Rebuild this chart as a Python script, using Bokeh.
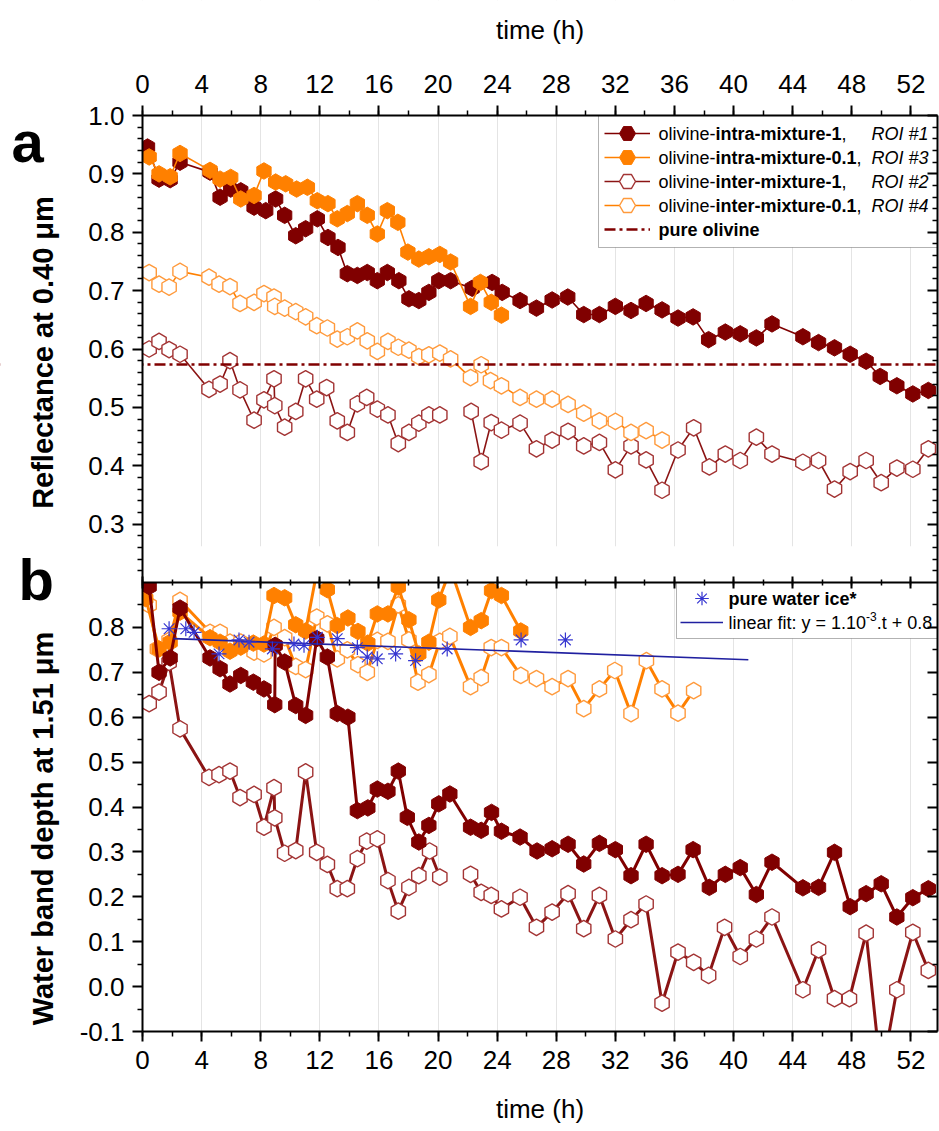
import math
from bokeh.plotting import figure
from bokeh.models import (Range1d, LinearAxis, FixedTicker, SingleIntervalTicker,
                          CustomJSTickFormatter, Legend, LegendItem, BoxAnnotation)
from bokeh.core.properties import value
from bokeh.embed import file_html
from bokeh.resources import INLINE

NaN = float("nan")

# ---------------- panel a : reflectance at 0.40 um ----------------
t_a_intra1 = [0.34, 1.12, 1.87, 2.54, 4.57, 5.25, 5.97, 6.65, 7.55, 8.34, 9.01, 9.62, 10.37, 11.04,
              11.83, 12.55, 13.23, 13.86, 14.54, 15.21, 15.89, 16.57, 17.35, 18.03, 18.70, 19.38,
              20.05, 20.85, 22.31, 23.66, 24.34, 25.55, 26.66, 27.72, 28.78, 29.86, 30.92, 32.00,
              33.06, 34.08, 35.16, 36.24, 37.26, 38.31, 39.44, 40.45, 41.54, 42.60, 44.69, 45.75,
              46.83, 47.89, 48.97, 49.92, 51.05, 52.13, 53.18]
r_a_intra1 = [0.946, 0.891, 0.890, 0.920, 0.903, 0.860, 0.874, 0.871, 0.843, 0.837, 0.857, 0.829,
              0.794, 0.806, 0.823, 0.791, 0.774, 0.729, 0.726, 0.731, 0.717, 0.731, 0.717, 0.686,
              0.683, 0.697, 0.717, 0.717, 0.704, 0.714, 0.697, 0.683, 0.670, 0.684, 0.689, 0.659,
              0.659, 0.673, 0.666, 0.678, 0.667, 0.653, 0.655, 0.616, 0.629, 0.626, 0.619, 0.643,
              0.621, 0.611, 0.602, 0.591, 0.579, 0.553, 0.537, 0.523, 0.529]

t_a_intra01 = [0.45, 1.12, 1.87, 2.54, 4.57, 5.25, 5.97, 6.65, 7.55, 8.22, 9.01, 9.69, 10.43, 11.16,
               11.83, 12.55, 13.18, 13.86, 14.54, 15.21, 15.89, 16.57, 17.28, 17.96, 18.70, 19.38,
               20.12, 20.85, 22.20, 22.87, 23.60, 24.29]
r_a_intra01 = [0.929, 0.900, 0.895, 0.935, 0.906, 0.891, 0.894, 0.857, 0.863, 0.905, 0.886, 0.883,
               0.874, 0.877, 0.854, 0.849, 0.823, 0.832, 0.849, 0.829, 0.797, 0.837, 0.817, 0.766,
               0.754, 0.758, 0.762, 0.749, 0.673, 0.714, 0.680, 0.658]

t_a_inter1 = [0.45, 1.12, 1.80, 2.54, 4.50, 5.25, 5.92, 6.60, 7.55, 8.22, 8.90, 8.95, 9.62, 10.37,
              11.04, 11.79, 12.46, 13.18, 13.86, 14.54, 15.17, 15.89, 16.61, 17.31, 18.03, 18.70,
              19.38, 20.12, 21.20, 22.24, 22.92, 23.60, 24.29, 25.55, 26.66, 27.72, 28.80, 29.86,
              30.92, 32.00, 33.06, 34.08, 35.16, 36.24, 37.30, 38.36, 39.44, 40.45, 41.54, 42.60,
              44.69, 45.75, 46.83, 47.89, 48.97, 49.99, 51.05, 52.13, 53.18]
r_a_inter1 = [0.600, 0.613, 0.599, 0.591, 0.531, 0.540, 0.580, 0.530, 0.478, 0.513, 0.549, 0.503,
              0.466, 0.493, 0.549, 0.514, 0.534, 0.477, 0.457, 0.506, 0.517, 0.497, 0.487, 0.438,
              0.457, 0.473, 0.487, 0.487, NaN, 0.493, 0.407, 0.474, 0.461, 0.473, 0.429, 0.444,
              0.459, 0.434, 0.440, 0.393, 0.434, 0.410, 0.358, 0.427, 0.465, 0.398, 0.420, 0.409,
              0.449, 0.420, 0.406, 0.409, 0.360, 0.390, 0.409, 0.371, 0.396, 0.394, 0.429]

t_a_inter01 = [0.45, 1.12, 1.80, 2.54, 4.50, 5.18, 5.92, 6.60, 7.55, 8.22, 8.90, 8.95, 9.62, 10.37,
               11.04, 11.79, 12.51, 13.18, 13.86, 14.54, 15.21, 15.89, 16.61, 17.31, 18.03, 18.70,
               19.38, 20.12, 20.85, 22.20, 22.92, 23.55, 24.29, 25.55, 26.66, 27.72, 28.80, 29.86,
               30.92, 32.00, 33.06, 34.08, 35.16]
r_a_inter01 = [0.731, 0.711, 0.706, 0.733, 0.723, 0.711, 0.707, 0.678, 0.680, 0.695, 0.689, 0.673,
               0.670, 0.664, 0.655, 0.640, 0.636, 0.617, 0.621, 0.631, 0.614, 0.596, 0.613, 0.603,
               0.598, 0.587, 0.590, 0.593, 0.583, 0.551, 0.573, 0.546, 0.537, 0.517, 0.514, 0.514,
               0.505, 0.490, 0.477, 0.476, 0.457, 0.460, 0.444]

pure_olivine = 0.573

# ---------------- panel b : water band depth at 1.51 um ----------------
t_b_intra1 = [0.45, 1.12, 1.87, 2.54, 4.57, 5.25, 5.92, 6.65, 7.50, 8.22, 8.95, 8.98, 9.62, 10.37,
              11.04, 11.79, 12.51, 13.18, 13.90, 14.54, 15.25, 15.89, 16.61, 17.31, 17.92, 18.70,
              19.38, 20.05, 20.80, 22.20, 22.92, 23.62, 24.29, 25.55, 26.70, 27.72, 28.80, 29.86,
              30.92, 32.00, 33.06, 34.08, 35.16, 36.24, 37.26, 38.36, 39.44, 40.45, 41.54, 42.60,
              44.69, 45.75, 46.83, 47.89, 48.97, 49.99, 51.05, 52.13, 53.18]
d_b_intra1 = [0.891, 0.700, 0.732, 0.843, 0.732, 0.708, 0.674, 0.693, 0.678, 0.663, 0.628, 0.760,
              0.723, 0.626, 0.604, 0.775, 0.734, 0.608, 0.600, 0.392, 0.398, 0.440, 0.435, 0.480,
              0.377, 0.322, 0.359, 0.407, 0.429, 0.355, 0.348, 0.388, 0.346, 0.333, 0.302, 0.307,
              0.317, 0.273, 0.319, 0.305, 0.247, 0.317, 0.247, 0.250, 0.305, 0.221, 0.250, 0.265,
              0.205, 0.277, 0.220, 0.221, 0.299, 0.178, 0.207, 0.229, 0.155, 0.198, 0.218]

t_b_intra01 = [0.22, 1.12, 1.87, 2.54, 4.57, 5.25, 5.92, 6.65, 7.50, 8.22, 8.90, 9.62, 10.37, 11.04,
               11.83, 12.51, 13.18, 13.90, 14.58, 15.25, 15.89, 16.61, 17.31, 18.03, 18.70, 19.38,
               20.05, 20.85, 22.20, 22.92, 23.62, 24.29, 25.60]
d_b_intra01 = [0.864, 0.752, 0.767, 0.834, 0.777, 0.767, 0.747, 0.756, 0.765, 0.763, 0.871, 0.866,
               0.806, 0.792, 0.930, 0.884, 0.804, 0.821, 0.791, 0.765, 0.830, 0.830, 0.890, 0.817,
               0.741, 0.767, 0.861, 0.930, 0.800, 0.815, 0.882, 0.871, 0.792]

t_b_inter1 = [0.45, 1.12, 1.80, 2.54, 4.50, 5.18, 5.92, 6.60, 7.55, 8.22, 8.90, 8.95, 9.62, 10.37,
              11.04, 11.79, 12.51, 13.18, 13.86, 14.54, 15.17, 15.89, 16.61, 17.31, 18.03, 18.70,
              19.43, 20.12, 21.20, 22.20, 22.92, 23.60, 24.29, 25.55, 26.66, 27.72, 28.80, 29.86,
              30.92, 32.00, 33.06, 34.08, 35.16, 36.24, 37.30, 38.31, 39.39, 40.45, 41.54, 42.60,
              44.69, 45.75, 46.83, 47.84, 48.97, 49.99, 51.05, 52.13, 53.18]
d_b_inter1 = [0.630, 0.656, 0.722, 0.574, 0.466, 0.472, 0.480, 0.421, 0.428, 0.355, 0.443, 0.376,
              0.297, 0.303, 0.478, 0.299, 0.272, 0.218, 0.218, 0.285, 0.324, 0.329, 0.236, 0.168,
              0.221, 0.247, 0.302, 0.244, NaN, 0.250, 0.210, 0.203, 0.173, 0.199, 0.132, 0.166,
              0.207, 0.129, 0.203, 0.106, 0.149, 0.184, -0.037, 0.077, 0.054, 0.025, 0.132, 0.067,
              0.106, 0.155, -0.007, 0.082, -0.027, -0.027, 0.119, -0.200, -0.007, 0.121, 0.036]

t_b_inter01 = [0.45, 1.01, 1.80, 2.54, 4.57, 5.25, 5.92, 6.65, 7.55, 8.22, 8.90, 9.62, 10.37, 11.04,
               11.79, 12.51, 13.18, 13.86, 14.58, 15.21, 15.89, 16.61, 17.31, 18.03, 18.64, 19.38,
               20.12, 20.80, 22.20, 22.92, 23.60, 24.29, 25.60, 26.66, 27.72, 28.80, 29.86, 30.92,
               31.96, 33.06, 34.10, 35.16, 36.24, 37.30]
d_b_inter01 = [0.850, 0.752, 0.771, 0.860, 0.789, 0.789, 0.767, 0.767, 0.745, 0.741, 0.800, 0.777,
               0.713, 0.706, 0.823, 0.808, 0.730, 0.750, 0.717, 0.700, 0.771, 0.769, 0.850, 0.772,
               0.678, 0.695, 0.769, 0.780, 0.668, 0.688, 0.755, 0.755, 0.693, 0.686, 0.668, 0.686,
               0.619, 0.663, 0.704, 0.608, 0.726, 0.663, 0.609, 0.659]

t_ice = [1.80, 2.93, 3.49, 5.18, 6.53, 7.21, 8.79, 10.25, 10.93, 11.83, 13.18, 14.54, 15.21, 15.89,
         17.13, 18.48, 20.62, 25.62, 28.62]
d_ice = [0.797, 0.797, 0.789, 0.741, 0.772, 0.767, 0.752, 0.763, 0.760, 0.778, 0.775, 0.755, 0.734,
         0.730, 0.741, 0.726, 0.752, 0.772, 0.772]

t_fit = [2.1, 41.0]
d_fit = [0.775, 0.728]

refl_ticks = [0.3, 0.4, 0.5, 0.6, 0.7, 0.8, 0.9, 1.0]
depth_ticks = [-0.1, 0.0, 0.1, 0.2, 0.3, 0.4, 0.5, 0.6, 0.7, 0.8]
time_interval = 4

# ---------------- layout (page pixels) ----------------
FIG_W, FIG_H = 939, 1130
AX_L, AX_R, AX_T, AX_B = 142, 937, 115, 1031     # the plotting box of the two panels
SPLIT = 582
X_END = 53.8
FONT = "Liberation Sans"

DARK = "#800000"
DARK_LINE = "#8B1414"
DARK_OPEN = "#A33434"
ORANGE = "#FF8000"
ORANGE_OPEN = "#FF9A3C"
BLUE = "#3535D0"
BLUE_FIT = "#2020A0"

ppx = (AX_R - AX_L) / X_END
top_ppu = (SPLIT - AX_T) / 0.8
bot_ppu = (AX_B - SPLIT) / 1.0


def X(px):
    return (px - AX_L) / ppx


def YT(py):
    return 1.0 - (py - AX_T) / top_ppu


def YB(py):
    return 0.9 - (py - SPLIT) / bot_ppu


def top_to_bot(v):
    return YB(AX_T + (1.0 - v) * top_ppu)


TOP_EDGE = top_to_bot(1.0)
y_top = Range1d(YT(FIG_H), YT(0))
y_bot = Range1d(YB(FIG_H), YB(0))

# the frame covers the whole canvas; every axis is pinned to the panel box edges
p = figure(width=FIG_W, height=FIG_H, x_range=Range1d(X(0), X(FIG_W)), y_range=y_bot,
           output_backend="svg", toolbar_location=None,
           x_axis_location=None, y_axis_location=None,
           min_border_left=0, min_border_right=0, min_border_top=0, min_border_bottom=0)
p.extra_y_ranges = {"top": y_top}
p.outline_line_color = None
p.background_fill_color = "white"
p.border_fill_color = "white"

time_ticker = SingleIntervalTicker(interval=time_interval, num_minor_ticks=2)
p.xgrid.ticker = time_ticker
p.xgrid.bounds = (0, X_END)
p.xgrid.grid_line_color = "#E4E4E4"
p.xgrid.grid_line_width = 1
p.ygrid.visible = False

major_y = depth_ticks + [top_to_bot(v) for v in refl_ticks]
minor_y = [-0.05 + 0.1 * i for i in range(10)] + \
          [top_to_bot(0.2 + 0.02 * i) for i in range(1, 40) if i % 5 != 0]
y_ticker = FixedTicker(ticks=major_y, minor_ticks=minor_y)
y_fmt = CustomJSTickFormatter(args=dict(split=SPLIT, bppu=bot_ppu, tppu=top_ppu, atop=AX_T),
                              code="""
let v = tick;
if (tick > 0.9 + 1e-9) {
  const py = split + (0.9 - tick) * bppu;
  v = 1.0 - (py - atop) / tppu;
}
return v.toFixed(1);
""")
Y_BOUNDS = (-0.1 - 1e-6, TOP_EDGE + 1e-6)
X_BOUNDS = (0, X_END)


def style(ax, tin, tout, mtin, mtout, labels=True):
    ax.axis_line_color = "black"
    ax.axis_line_width = 2
    ax.major_tick_line_color = "black"
    ax.major_tick_line_width = 2
    ax.minor_tick_line_color = "black"
    ax.minor_tick_line_width = 1.5
    ax.major_tick_in = tin
    ax.major_tick_out = tout
    ax.minor_tick_in = mtin
    ax.minor_tick_out = mtout
    ax.major_label_text_font = FONT
    if labels:
        ax.major_label_text_font_size = "26px"
        ax.major_label_text_color = "black"
    else:
        ax.major_label_text_font_size = "0px"
        ax.major_label_text_color = None
        ax.major_label_standoff = 0


ax_top = LinearAxis(ticker=time_ticker, fixed_location=TOP_EDGE, bounds=X_BOUNDS)
style(ax_top, 0, 10, 0, 5)
ax_top.major_label_standoff = 13
p.add_layout(ax_top, "above")

ax_bot = LinearAxis(ticker=time_ticker, fixed_location=-0.1, bounds=X_BOUNDS)
style(ax_bot, 0, 10, 0, 5)
ax_bot.major_label_standoff = 9
p.add_layout(ax_bot, "below")

ax_mid = LinearAxis(ticker=time_ticker, fixed_location=0.9, bounds=X_BOUNDS)
style(ax_mid, 6, 6, 3, 3, labels=False)
p.add_layout(ax_mid, "below")

ax_left = LinearAxis(ticker=y_ticker, formatter=y_fmt, fixed_location=0, bounds=Y_BOUNDS)
style(ax_left, 0, 10, 0, 5)
ax_left.major_label_standoff = 8
p.add_layout(ax_left, "left")

ax_right = LinearAxis(ticker=y_ticker, formatter=y_fmt, fixed_location=X_END, bounds=Y_BOUNDS)
style(ax_right, 10, 0, 5, 0, labels=False)
p.add_layout(ax_right, "right")

HEX = dict(marker="hex", angle=math.pi / 2, size=16.5)

# ---- panel a glyphs ----
a1_l = p.line(t_a_intra1, r_a_intra1, y_range_name="top", line_color=DARK, line_width=1.6)
a1_s = p.scatter(t_a_intra1, r_a_intra1, y_range_name="top", fill_color=DARK, line_color=DARK,
                 line_width=1, **HEX)
a2_l = p.line(t_a_intra01, r_a_intra01, y_range_name="top", line_color=ORANGE, line_width=1.6)
a2_s = p.scatter(t_a_intra01, r_a_intra01, y_range_name="top", fill_color=ORANGE,
                 line_color=ORANGE, line_width=1, **HEX)
a3_l = p.line(t_a_inter1, r_a_inter1, y_range_name="top", line_color=DARK_LINE, line_width=1.6)
a3_s = p.scatter(t_a_inter1, r_a_inter1, y_range_name="top", fill_color="white",
                 line_color=DARK_OPEN, line_width=1.4, **HEX)
a4_l = p.line(t_a_inter01, r_a_inter01, y_range_name="top", line_color=ORANGE, line_width=1.6)
a4_s = p.scatter(t_a_inter01, r_a_inter01, y_range_name="top", fill_color="white",
                 line_color=ORANGE_OPEN, line_width=1.4, **HEX)
olv = p.hspan(y=[pure_olivine], y_range_name="top", line_color=DARK, line_width=2.5,
              line_dash="11 4 3 4")

# ---- panel b glyphs ----
b4_l = p.line(t_b_inter01, d_b_inter01, line_color=ORANGE, line_width=3)
b4_s = p.scatter(t_b_inter01, d_b_inter01, fill_color="white", line_color=ORANGE_OPEN,
                 line_width=1.4, **HEX)
b2_l = p.line(t_b_intra01, d_b_intra01, line_color=ORANGE, line_width=3)
b2_s = p.scatter(t_b_intra01, d_b_intra01, fill_color=ORANGE, line_color=ORANGE, line_width=1,
                 **HEX)
b3_l = p.line(t_b_inter1, d_b_inter1, line_color=DARK_LINE, line_width=3)
b3_s = p.scatter(t_b_inter1, d_b_inter1, fill_color="white", line_color=DARK_OPEN,
                 line_width=1.4, **HEX)
b1_l = p.line(t_b_intra1, d_b_intra1, line_color=DARK, line_width=3)
b1_s = p.scatter(t_b_intra1, d_b_intra1, fill_color=DARK, line_color=DARK, line_width=1, **HEX)
fit_r = p.line(t_fit, d_fit, line_color=BLUE_FIT, line_width=1.6)
ice_r = p.scatter(t_ice, d_ice, marker="asterisk", size=15, line_color=BLUE, line_width=1.2)

# ---- legend geometry (page px) ----
LG_ROW = 24
LA_L, LA_T, LA_H = 598, AX_T, 132          # box of legend a
LA_GX, LA_GW, LA_GH = 604, 46, 40          # sample column of legend a
LA_TX = 658                                # text column of legend a
LB_L, LB_T, LB_H = 676, SPLIT, 56          # box of legend b
LB_GX, LB_GW, LB_GH = 680, 43, 34
LB_TX = 728

# masks: keep marks (and grid lines) inside the panel boxes; the legend boxes are blanked
MASK = dict(fill_color="white", fill_alpha=1.0, line_color=None, level="glyph")
p.add_layout(BoxAnnotation(right=0, **MASK))
p.add_layout(BoxAnnotation(left=X_END, **MASK))
p.add_layout(BoxAnnotation(top=-0.1, **MASK))
p.add_layout(BoxAnnotation(bottom=TOP_EDGE, **MASK))
p.add_layout(BoxAnnotation(bottom=0.2, top=0.262, left=0, y_range_name="top", **MASK))
BOXED = dict(MASK, line_color="black", line_width=1)
p.add_layout(BoxAnnotation(left=X(LA_L), right=X(AX_R), top=YB(LA_T), bottom=YB(LA_T + LA_H),
                           **BOXED))
p.add_layout(BoxAnnotation(left=X(LB_L), right=X(AX_R), top=YB(LB_T), bottom=YB(LB_T + LB_H),
                           **BOXED))

# ---- legend samples: one single-entry legend per row ----
LEG_STYLE = dict(margin=0, padding=0, spacing=0, label_text_font_size="18px",
                 label_text_color=None, label_width=10, label_standoff=0,
                 border_line_color=None, background_fill_alpha=0.0)


def add_sample(renderers, gx, cy, gw, gh):
    p.add_layout(Legend(items=[LegendItem(label="", renderers=renderers)],
                        location=(gx, FIG_H - (cy + gh / 2)), glyph_width=gw,
                        glyph_height=gh, label_height=gh, **LEG_STYLE))


rows_a = [[a1_l, a1_s], [a2_l, a2_s], [a3_l, a3_s], [a4_l, a4_s], [olv]]
for i, rs in enumerate(rows_a):
    add_sample(rs, LA_GX, LA_T + 6 + LG_ROW * i + LG_ROW / 2, LA_GW, LA_GH)
rows_b = [[ice_r], [fit_r]]
for i, rs in enumerate(rows_b):
    add_sample(rs, LB_GX, LB_T + 4 + LG_ROW * i + LG_ROW / 2, LB_GW, LB_GH)

# ---- texts (text glyphs on the overlay level) ----
W_NORMAL = {'o': 556, 'l': 222, 'i': 222, 'v': 500, 'n': 556, 'e': 556, '-': 333, ',': 278,
            ' ': 278, 'a': 556, 'r': 333, 'f': 278, 't': 278, ':': 278, 'y': 500, '=': 584,
            '1': 556, '.': 278, '0': 556, '+': 584, '8': 556, '3': 556}
W_BOLD = {'i': 278, 'n': 611, 't': 333, 'r': 389, 'a': 556, '-': 333, 'm': 889, 'x': 556,
          'u': 611, 'e': 556, '0': 556, '.': 278, '1': 556}


def tw(text, table, size):
    return sum(table[c] for c in text) * size / 1000.0


def add_text(px, py, text, panel, size=18, style_="normal", angle=0.0, align="left",
             baseline="middle"):
    if panel == "top":
        yv, kw = YT(py), dict(y_range_name="top")
    else:
        yv, kw = YB(py), {}
    p.text(x=[X(px)], y=[yv], text=[text], angle=angle, text_font=value(FONT),
           text_font_size=value(f"{size}px"), text_font_style=value(style_),
           text_color="black", text_align=value(align), text_baseline=value(baseline),
           level="overlay", **kw)


entries = [("intra-mixture-1", "ROI #1"), ("intra-mixture-0.1", "ROI #3"),
           ("inter-mixture-1", "ROI #2"), ("inter-mixture-0.1", "ROI #4")]
for i, (bold_part, roi) in enumerate(entries):
    cy = LA_T + 6 + LG_ROW * i + LG_ROW / 2
    w0 = tw("olivine-", W_NORMAL, 18)
    w1 = tw(bold_part, W_BOLD, 18)
    add_text(LA_TX, cy, "olivine-", "top")
    add_text(LA_TX + w0, cy, bold_part, "top", style_="bold")
    add_text(LA_TX + w0 + w1, cy, ",", "top")
    add_text(AX_R - 66, cy, roi, "top", style_="italic")
add_text(LA_TX, LA_T + 6 + LG_ROW * 4 + LG_ROW / 2, "pure olivine", "top", style_="bold")

cy0 = LB_T + 4 + LG_ROW / 2
cy1 = cy0 + LG_ROW
add_text(LB_TX, cy0, "pure water ice*", "bot", style_="bold")
s1 = "linear fit: y = 1.10"
add_text(LB_TX, cy1, s1, "bot")
w_s1 = tw(s1, W_NORMAL, 18)
add_text(LB_TX + w_s1, cy1 - 6, "-3", "bot", size=12)
add_text(LB_TX + w_s1 + tw("-3", W_NORMAL, 12), cy1, ".t + 0.8", "bot")

# axis titles, panel letters
add_text((AX_L + AX_R) / 2, 29, "time (h)", "bot", size=26, align="center")
add_text((AX_L + AX_R) / 2, 1108, "time (h)", "bot", size=26, align="center")
add_text(11, 141, "a", "top", size=58, style_="bold", baseline="alphabetic")
add_text(18, 579, "b", "bot", size=58, style_="bold", baseline="alphabetic")
add_text(42.5, 352, "Reflectance at 0.40 μm", "top", size=29, style_="bold",
         angle=math.pi / 2, align="center")
add_text(42.5, 828, "Water band depth at 1.51 μm", "bot", size=29, style_="bold",
         angle=math.pi / 2, align="center")

open("out.html", "w").write(file_html(p, INLINE))
